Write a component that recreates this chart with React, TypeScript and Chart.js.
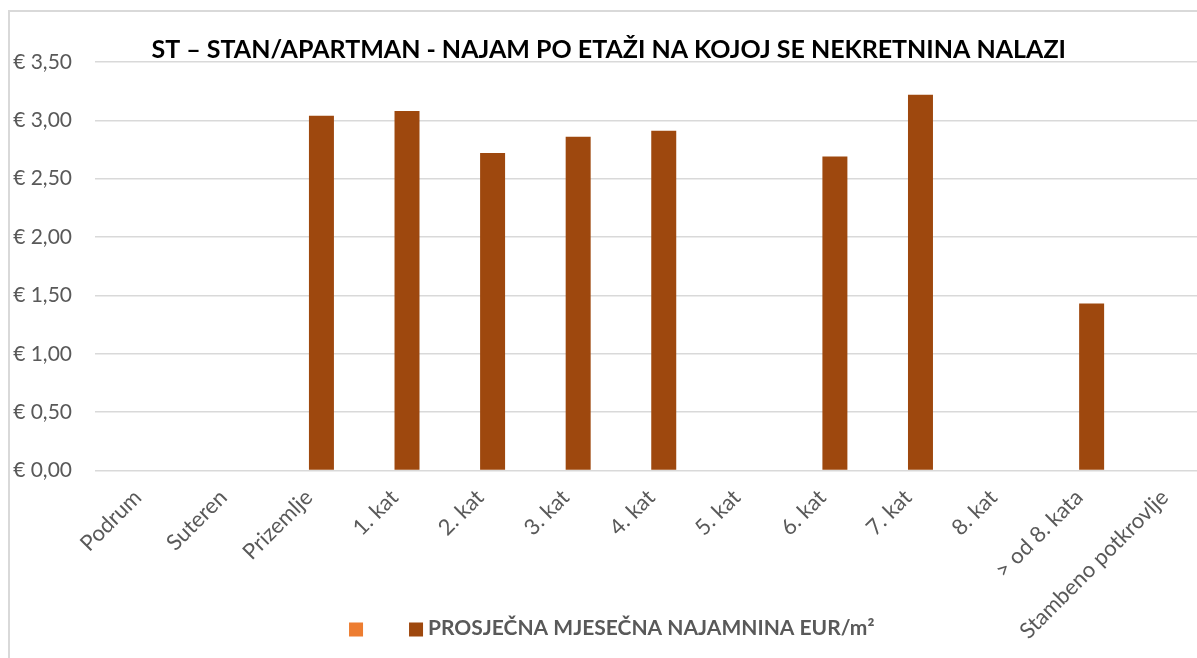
import { useEffect, useRef } from 'react';
import { Chart, registerables } from 'chart.js';

Chart.register(...registerables);

const categories = [
  'Podrum',
  'Suteren',
  'Prizemlje',
  '1. kat',
  '2. kat',
  '3. kat',
  '4. kat',
  '5. kat',
  '6. kat',
  '7. kat',
  '8. kat',
  '> od 8. kata',
  'Stambeno potkrovlje',
];

const emptySeries: (number | null)[] = [null, null, null, null, null, null, null, null, null, null, null, null, null];
const rentValues: (number | null)[] = [null, null, 3.04, 3.08, 2.72, 2.86, 2.91, null, 2.69, 3.22, null, 1.43, null];

const yTickLabels = ['€ 0,00', '€ 0,50', '€ 1,00', '€ 1,50', '€ 2,00', '€ 2,50', '€ 3,00', '€ 3,50'];
const seriesLabels = ['', 'PROSJEČNA MJESEČNA NAJAMNINA EUR/m²'];
const seriesColors = ['#ED7D31', '#9E480E'];
const titleText = 'ST – STAN/APARTMAN - NAJAM PO ETAŽI NA KOJOJ SE NEKRETNINA NALAZI';

const FONT = 'Lato';
const CANVAS_W = 1224;
const CANVAS_H = 658;
const PAD_RIGHT = 26.5;

// Custom bottom legend drawn on the canvas (overlaps the rotated labels area like the original)
const bottomLegend = {
  id: 'bottomLegend',
  afterDraw(chart: any) {
    const ctx = chart.ctx as CanvasRenderingContext2D;
    const box = 14;
    const gapItems = 46;
    const gapText = 5;
    ctx.save();
    ctx.font = `bold 21px ${FONT}`;
    const items = chart.data.datasets.map((ds: any) => ({
      label: ds.label as string,
      color: ds.backgroundColor as string,
      tw: ds.label ? ctx.measureText(ds.label).width : 0,
    }));
    let total = 0;
    items.forEach((it: any, i: number) => {
      total += box + (it.tw ? gapText + it.tw : 0);
      if (i < items.length - 1) total += gapItems;
    });
    const center = (chart.width - PAD_RIGHT) / 2 + 3;
    let x = center - total / 2;
    const yMid = 617;
    ctx.textBaseline = 'middle';
    ctx.textAlign = 'left';
    items.forEach((it: any) => {
      ctx.fillStyle = it.color;
      ctx.fillRect(x, yMid - box / 2 + 0.5, box, box);
      x += box;
      if (it.tw) {
        ctx.fillStyle = '#595959';
        ctx.fillText(it.label, x + gapText, yMid - 0.5);
        x += gapText + it.tw;
      }
      x += gapItems;
    });
    ctx.restore();
  },
};

export default function App() {
  const ref = useRef<HTMLCanvasElement | null>(null);

  useEffect(() => {
    if (!ref.current) return;
    const chart = new Chart(ref.current, {
      type: 'bar',
      data: {
        labels: categories,
        datasets: [
          {
            label: seriesLabels[0],
            data: emptySeries,
            backgroundColor: seriesColors[0],
            borderWidth: 0,
          },
          {
            label: seriesLabels[1],
            data: rentValues,
            backgroundColor: seriesColors[1],
            borderWidth: 0,
          },
        ],
      },
      options: {
        responsive: false,
        animation: false,
        devicePixelRatio: 1,
        layout: { padding: { right: PAD_RIGHT, left: 0, top: 0, bottom: 0 } },
        datasets: {
          bar: { categoryPercentage: 0.584, barPercentage: 1 },
        },
        plugins: {
          tooltip: { enabled: false },
          legend: { display: false },
          title: {
            display: true,
            text: titleText,
            color: '#000000',
            font: { family: FONT, size: 25, weight: 'bold', lineHeight: 1 },
            padding: { top: 25, bottom: 0 },
          },
        },
        scales: {
          x: {
            grid: { display: false },
            border: { display: false },
            ticks: {
              autoSkip: false,
              minRotation: 45,
              maxRotation: 45,
              padding: 6,
              color: '#595959',
              font: { family: FONT, size: 22 },
            },
            afterFit: (scale: any) => {
              scale.height = 199.5;
            },
          },
          y: {
            min: 0,
            max: 3.5,
            border: { display: false },
            grid: { color: '#d9d9d9', lineWidth: 1.5, drawTicks: false },
            ticks: {
              stepSize: 0.5,
              padding: 23,
              color: '#595959',
              font: { family: FONT, size: 21 },
              callback: (_v: any, i: number) => yTickLabels[i],
            },
            afterFit: (scale: any) => {
              scale.width = 85;
            },
          },
        },
      },
      plugins: [bottomLegend],
    });
    return () => chart.destroy();
  }, []);

  return (
    <div style={{ position: 'fixed', inset: 0, overflow: 'hidden', background: '#ffffff' }}>
      <div
        style={{
          position: 'absolute',
          left: 8,
          top: 10,
          width: 1260,
          height: 720,
          border: '2px solid #d9d9d9',
          boxSizing: 'border-box',
        }}
      >
        <canvas
          ref={ref}
          width={CANVAS_W}
          height={CANVAS_H}
          style={{ position: 'absolute', left: 0, top: 0, width: CANVAS_W, height: CANVAS_H }}
        />
      </div>
    </div>
  );
}
